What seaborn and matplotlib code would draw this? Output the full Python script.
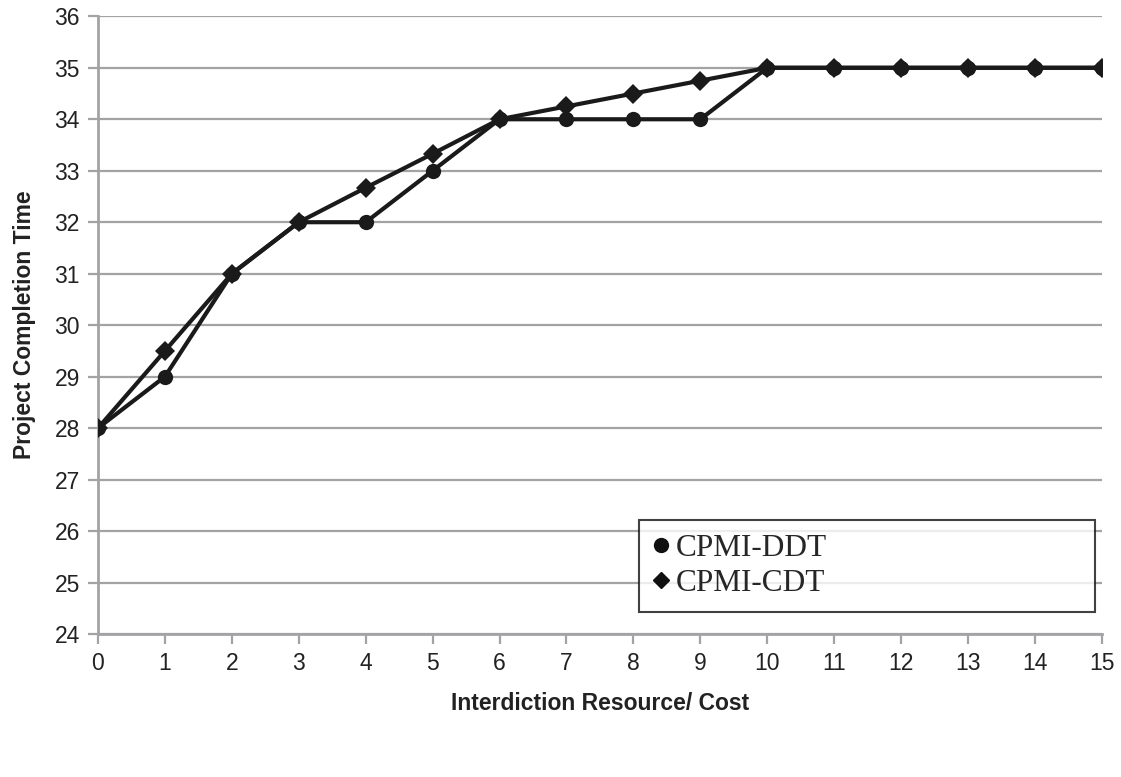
import numpy as np
import pandas as pd
import seaborn as sns
import matplotlib.pyplot as plt
from matplotlib.lines import Line2D

# veriler
resource = list(range(16))
ddt = [28, 29, 31, 32, 32, 33, 34, 34, 34, 34, 35, 35, 35, 35, 35, 35]
cdt = [28, 29.5, 31, 32, 32.67, 33.33, 34, 34.25, 34.5, 34.75, 35, 35, 35, 35, 35, 35]

df = pd.DataFrame({'resource': resource, 'CPMI-DDT': ddt, 'CPMI-CDT': cdt})

sns.set_style('white')
plt.rcParams['font.family'] = ['Liberation Sans', 'DejaVu Sans']

fig = plt.figure(figsize=(11.21, 7.77), dpi=100)
ax = fig.add_axes([0.0874, 0.184, 0.8956, 0.795])

grey = '#a3a3a6'
sns.lineplot(data=df, x='resource', y='CPMI-DDT', ax=ax, color='#1a1a1a', lw=3,
             marker='o', markersize=11, markeredgewidth=0, zorder=3)
sns.lineplot(data=df, x='resource', y='CPMI-CDT', ax=ax, color='#1a1a1a', lw=3,
             marker='D', markersize=10, markeredgewidth=0, zorder=4)

ax.set_xlim(0, 15)
ax.set_ylim(24, 36)
ax.set_xticks(range(16))
ax.set_yticks(range(24, 37))
ax.yaxis.grid(True, color=grey, lw=1.6)
ax.set_axisbelow(True)

for s in ['top', 'right']:
    ax.spines[s].set_visible(False)
for s in ['left', 'bottom']:
    ax.spines[s].set_color(grey)
    ax.spines[s].set_linewidth(2)

ax.tick_params(axis='both', which='both', length=7, width=1.6, color=grey,
               labelsize=16.5, labelcolor='#222222', direction='out')
ax.tick_params(axis='y', pad=6)
ax.tick_params(axis='x', pad=6)
ax.xaxis.set_ticks_position('bottom')
ax.yaxis.set_ticks_position('left')

ax.set_xlabel('Interdiction Resource/ Cost', fontsize=16.5, fontweight='bold',
              color='#222222', labelpad=12)
ax.set_ylabel('Project Completion Time', fontsize=16.5, fontweight='bold',
              color='#222222', labelpad=13)

handles = [
    Line2D([], [], ls='none', marker='o', color='#111111', markersize=10),
    Line2D([], [], ls='none', marker='D', color='#111111', markersize=8),
]
leg = ax.legend(handles, ['CPMI-DDT', 'CPMI-CDT'], loc='upper left',
                bbox_to_anchor=(0.5386, 0.032, 0.4542, 0.1526), mode='expand',
                frameon=True, fancybox=False, shadow=False, borderaxespad=0,
                prop={'family': 'Liberation Serif', 'size': 22.5},
                handlelength=0.5, handletextpad=0.25, labelspacing=0.2,
                borderpad=0.45)
leg.get_frame().set_edgecolor('#111111')
leg.get_frame().set_linewidth(1.5)

fig.savefig('out.png', dpi=100)
